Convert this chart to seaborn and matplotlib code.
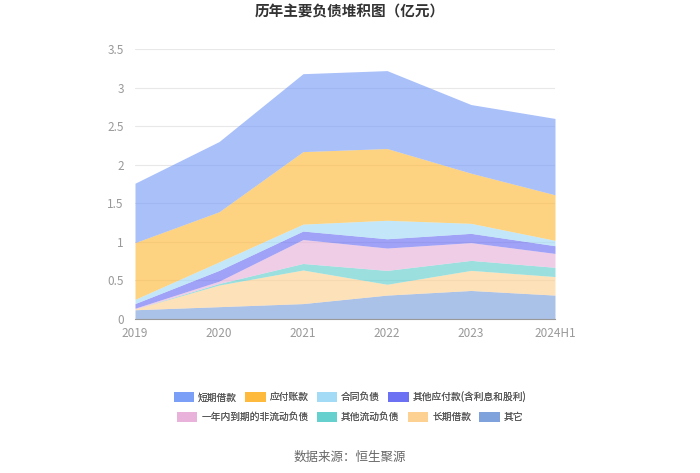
import pandas as pd
import matplotlib
matplotlib.use('Agg')
import matplotlib.pyplot as plt
from matplotlib.patches import Patch
import seaborn as sns

sns.set_style("white")
plt.rcParams['font.family'] = ['Noto Sans CJK SC', 'DejaVu Sans']

years = ['2019', '2020', '2021', '2022', '2023', '2024H1']
other = [0.12, 0.16, 0.20, 0.31, 0.37, 0.31]
long_loan = [0.01, 0.28, 0.435, 0.14, 0.26, 0.24]
other_current = [0.00, 0.02, 0.085, 0.18, 0.13, 0.12]
due_within_year = [0.01, 0.03, 0.31, 0.29, 0.23, 0.18]
other_payable = [0.06, 0.14, 0.11, 0.12, 0.12, 0.10]
contract_liab = [0.055, 0.11, 0.09, 0.24, 0.13, 0.07]
accounts_payable = [0.735, 0.65, 0.94, 0.93, 0.65, 0.59]
short_loan = [0.77, 0.91, 1.01, 1.01, 0.89, 0.99]

series = {
    '其它': (other, '#7fa2dc'),
    '长期借款': (long_loan, '#fdd192'),
    '其他流动负债': (other_current, '#66d0cf'),
    '一年内到期的非流动负债': (due_within_year, '#e8b2da'),
    '其他应付款(含利息和股利)': (other_payable, '#6c70f2'),
    '合同负债': (contract_liab, '#a3dbf7'),
    '应付账款': (accounts_payable, '#fdba3c'),
    '短期借款': (short_loan, '#7b9ef7'),
}

df = pd.DataFrame({k: v[0] for k, v in series.items()}, index=years)
colors = [v[1] for v in series.values()]

fig = plt.figure(figsize=(7, 4.73), dpi=100)
ax = fig.add_axes([135 / 700, 1 - 319 / 473, 420 / 700, 270 / 473])

x = list(range(len(years)))
ax.stackplot(x, df.T.values, colors=colors, alpha=0.65, linewidth=0)

ax.set_xlim(0, len(years) - 1)
ax.set_ylim(0, 3.5)
ax.set_yticks([0, 0.5, 1, 1.5, 2, 2.5, 3, 3.5])
ax.set_yticklabels(['0', '0.5', '1', '1.5', '2', '2.5', '3', '3.5'])
ax.set_xticks(x)
ax.set_xticklabels(years)
ax.yaxis.grid(True, color='#e8e8e8', linewidth=0.8)
ax.set_axisbelow(True)
for s in ['top', 'right', 'left']:
    ax.spines[s].set_visible(False)
ax.spines['bottom'].set_color('#999999')
ax.tick_params(axis='x', length=4, color='#999999', colors='#999999', labelsize=8.5, pad=2)
ax.tick_params(axis='y', length=0, colors='#999999', labelsize=8.5, pad=8)

fig.text(0.5, 1 - 12 / 473, '历年主要负债堆积图（亿元）', ha='center', va='center',
         fontsize=10.5, fontweight='bold', color='#333333')
fig.text(0.5, 1 - 457 / 473, '数据来源：恒生聚源', ha='center', va='center',
         fontsize=9, color='#666666')

rows = [
    (['短期借款', '应付账款', '合同负债', '其他应付款(含利息和股利)'], 397),
    (['一年内到期的非流动负债', '其他流动负债', '长期借款', '其它'], 417),
]
for names, ypix in rows:
    handles = [Patch(facecolor=series[n][1], edgecolor='none', label=n) for n in names]
    leg = fig.legend(handles=handles, ncol=4, loc='center', bbox_to_anchor=(0.5, 1 - ypix / 473),
                     frameon=False, fontsize=7, handlelength=2.1, handleheight=1.25,
                     columnspacing=0.85, handletextpad=0.4, borderpad=0, labelcolor='#555555')
    fig.add_artist(leg)

fig.savefig('out.png', dpi=100)
